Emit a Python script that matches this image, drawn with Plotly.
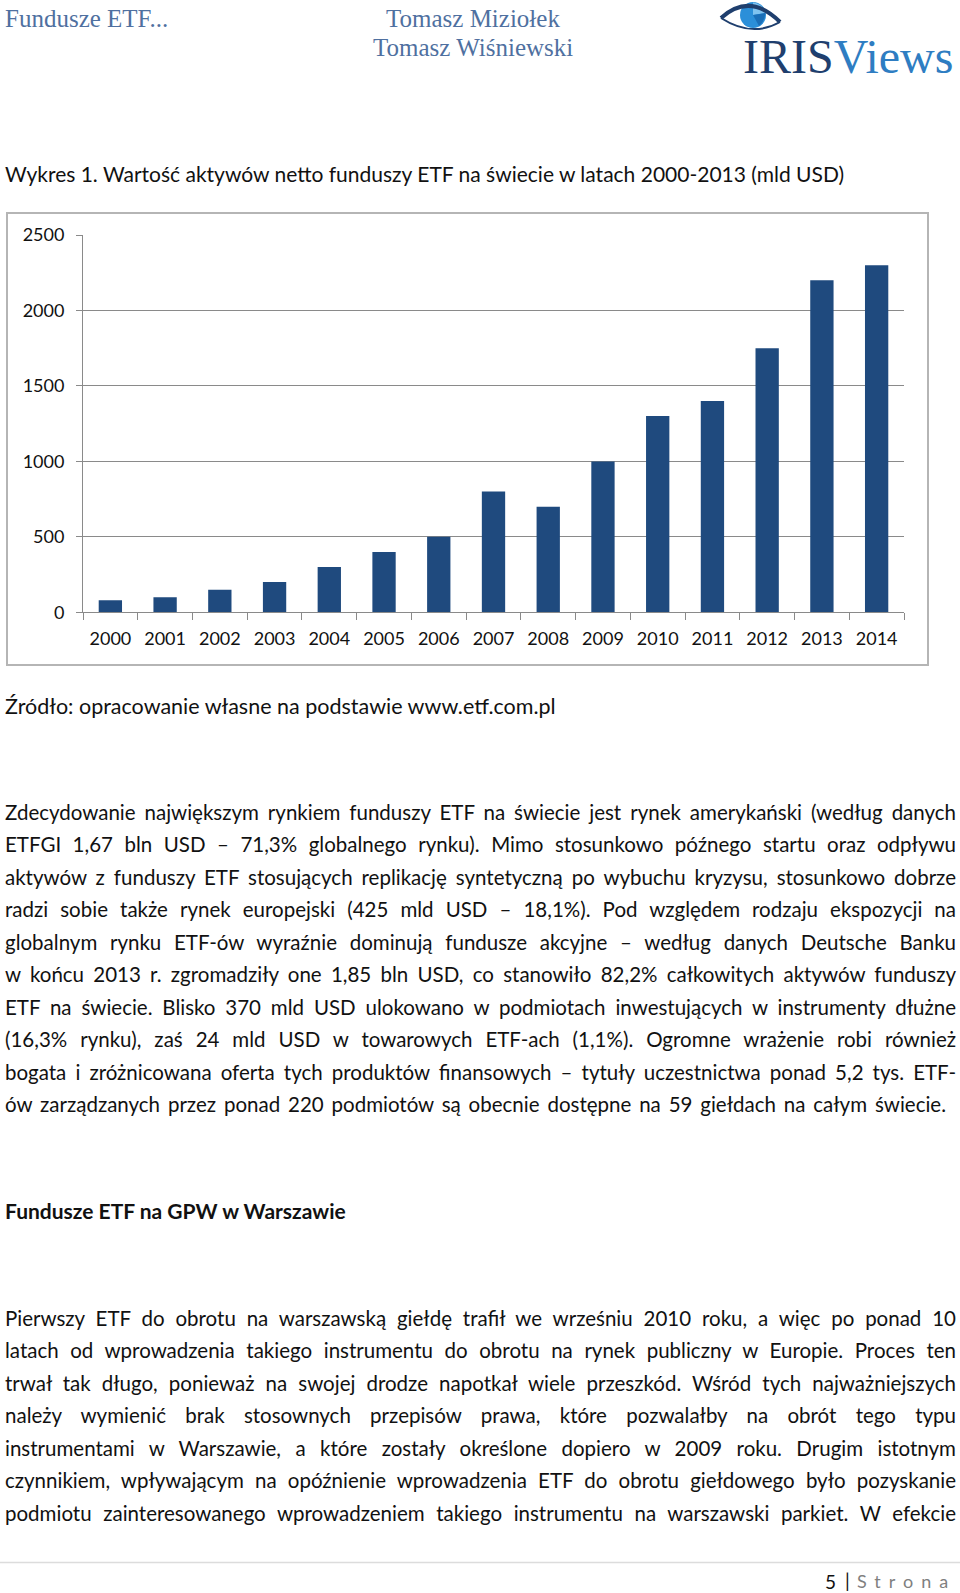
import plotly.graph_objects as go

W, H = 960, 1593

# ---------------- data ----------------
years = ["2000", "2001", "2002", "2003", "2004", "2005", "2006", "2007",
         "2008", "2009", "2010", "2011", "2012", "2013", "2014"]
assets_bn_usd = [80, 100, 150, 200, 300, 400, 500, 800,
                 700, 1000, 1300, 1400, 1750, 2200, 2300]
y_tick_values = [0, 500, 1000, 1500, 2000, 2500]

header_left = "Fundusze ETF..."
authors = ["Tomasz Miziołek", "Tomasz Wiśniewski"]
logo_dark = "IRIS"
logo_light = "Views"
chart_title = "Wykres 1. Wartość aktywów netto funduszy ETF na świecie w latach 2000-2013 (mld USD)"
source_note = "Źródło: opracowanie własne na podstawie www.etf.com.pl"
paragraph_1 = [
    "Zdecydowanie największym rynkiem funduszy ETF na świecie jest rynek amerykański (według danych",
    "ETFGI 1,67 bln USD – 71,3% globalnego rynku). Mimo stosunkowo późnego startu oraz odpływu",
    "aktywów z funduszy ETF stosujących replikację syntetyczną po wybuchu kryzysu, stosunkowo dobrze",
    "radzi sobie także rynek europejski (425 mld USD – 18,1%). Pod względem rodzaju ekspozycji na",
    "globalnym rynku ETF-ów wyraźnie dominują fundusze akcyjne – według danych Deutsche Banku",
    "w końcu 2013 r. zgromadziły one 1,85 bln USD, co stanowiło 82,2% całkowitych aktywów funduszy",
    "ETF na świecie. Blisko 370 mld USD ulokowano w podmiotach inwestujących w instrumenty dłużne",
    "(16,3% rynku), zaś 24 mld USD w towarowych ETF-ach (1,1%). Ogromne wrażenie robi również",
    "bogata i zróżnicowana oferta tych produktów finansowych – tytuły uczestnictwa ponad 5,2 tys. ETF-",
    "ów zarządzanych przez ponad 220 podmiotów są obecnie dostępne na 59 giełdach na całym świecie.",
]
heading_2 = "Fundusze ETF na GPW w Warszawie"
paragraph_2 = [
    "Pierwszy ETF do obrotu na warszawską giełdę trafił we wrześniu 2010 roku, a więc po ponad 10",
    "latach od wprowadzenia takiego instrumentu do obrotu na rynek publiczny w Europie. Proces ten",
    "trwał tak długo, ponieważ na swojej drodze napotkał wiele przeszkód. Wśród tych najważniejszych",
    "należy wymienić brak stosownych przepisów prawa, które pozwalałby na obrót tego typu",
    "instrumentami w Warszawie, a które zostały określone dopiero w 2009 roku. Drugim istotnym",
    "czynnikiem, wpływającym na opóźnienie wprowadzenia ETF do obrotu giełdowego było pozyskanie",
    "podmiotu zainteresowanego wprowadzeniem takiego instrumentu na warszawski parkiet. W efekcie",
]
page_number = "5"
page_word = "Strona"

# ---------------- style ----------------
BODY_FONT = "Lato"
SERIF_FONT = "Liberation Serif"
BAR_COLOR = "#1F4A7E"
GRID_COLOR = "#8a8a8a"
HEADER_BLUE = "#4F70A0"


def px(x):
    return x / W


def py(y):
    return 1 - y / H


fig = go.Figure()
fig.add_trace(go.Bar(x=years, y=assets_bn_usd, marker=dict(color=BAR_COLOR, line=dict(width=0)),
                     hoverinfo="x+y", showlegend=False))

annotations = []
justify = {}


def add_text(text, x, y, size, color="#111111", font=BODY_FONT, xanchor="left", target=None):
    fnt = dict(family=font, size=size, color=color)
    annotations.append(dict(text=text, x=px(x), y=py(y), xref="paper", yref="paper",
                            xanchor=xanchor, yanchor="middle", align=xanchor,
                            showarrow=False, font=fnt, borderpad=0))
    if target is not None:
        justify[len(annotations) - 1] = target


# header
add_text(header_left, 4, 18, 25, color=HEADER_BLUE, font=SERIF_FONT)
add_text(authors[0], 473, 18, 25, color=HEADER_BLUE, font=SERIF_FONT, xanchor="center")
add_text(authors[1], 473, 48, 25, color=HEADER_BLUE, font=SERIF_FONT, xanchor="center")
add_text(f'<span style="color:#1F3F6E">{logo_dark}</span><span style="color:#2E7DC2">{logo_light}</span>',
         742, 56, 48, font=SERIF_FONT)

# chart title & source
add_text(chart_title, 4, 173, 21)
add_text(source_note, 4, 706, 21.5)

# paragraph 1
LINE = 32.5
y0 = 811.7
for i, line in enumerate(paragraph_1):
    tgt = 951 if i < len(paragraph_1) - 1 else 941
    add_text(line, 4, y0 + i * LINE, 20.5, target=tgt)

add_text(f"<b>{heading_2}</b>", 4, 1210, 21)

y1 = 1317.6
for i, line in enumerate(paragraph_2):
    add_text(line, 4, y1 + i * LINE, 20.5, target=951)

# footer
add_text(page_number, 824, 1581, 19)
add_text("|", 844, 1580, 19)
add_text(f'<span style="letter-spacing:8px">{page_word}</span>', 856, 1581, 18, color="#7f7f7f")

# ---------------- shapes ----------------
shapes = []
# chart frame
shapes.append(dict(type="rect", xref="paper", yref="paper", x0=px(7), x1=px(928), y0=py(665), y1=py(213),
                   line=dict(color="#b5b5b5", width=2), fillcolor="rgba(0,0,0,0)", layer="below"))
# footer rule
shapes.append(dict(type="line", xref="paper", yref="paper", x0=0, x1=1, y0=py(1562.5), y1=py(1562.5),
                   line=dict(color="#dcdcdc", width=1.5)))
# logo eye: iris
shapes.append(dict(type="circle", xref="paper", yref="paper", x0=px(740), x1=px(766), y0=py(28), y1=py(2),
                   fillcolor="#2B8FD9", line=dict(width=0)))
shapes.append(dict(type="path", xref="paper", yref="paper",
                   path=f"M {px(753)},{py(15)} L {px(753)},{py(2.5)} Q {px(763)},{py(4)} {px(765.5)},{py(13)} Z",
                   fillcolor="#7FC3F0", line=dict(width=0)))
shapes.append(dict(type="path", xref="paper", yref="paper",
                   path=f"M {px(753)},{py(15)} L {px(765.5)},{py(13)} Q {px(765)},{py(21)} {px(759)},{py(26)} Z",
                   fillcolor="#1B6FB8", line=dict(width=0)))
# eyelids
shapes.append(dict(type="path", xref="paper", yref="paper",
                   path=f"M {px(721)},{py(18)} Q {px(750)},{py(-8)} {px(780)},{py(22)}",
                   line=dict(color="#1F3F6E", width=4)))
shapes.append(dict(type="path", xref="paper", yref="paper",
                   path=f"M {px(721)},{py(18)} Q {px(752)},{py(38)} {px(780)},{py(22)}",
                   line=dict(color="#1F3F6E", width=2)))

fig.update_layout(
    width=W, height=H, autosize=False,
    margin=dict(l=0, r=0, t=0, b=0, pad=0, autoexpand=False),
    paper_bgcolor="white", plot_bgcolor="white",
    bargap=0.574,
    showlegend=False,
    annotations=annotations,
    shapes=shapes,
    xaxis=dict(type="category", domain=[px(83), px(904)], anchor="y", automargin=False,
               showline=True, linecolor=GRID_COLOR, linewidth=1,
               ticks="outside", tickson="boundaries", ticklen=7, tickcolor=GRID_COLOR, tickwidth=1,
               showgrid=False, tickfont=dict(family=BODY_FONT, size=18, color="#111111"),
               ticklabelstandoff=10, fixedrange=True),
    yaxis=dict(domain=[py(612.3), py(235)], range=[0, 2500], anchor="x", automargin=False,
               tickmode="array", tickvals=y_tick_values, ticktext=[str(v) for v in y_tick_values],
               showgrid=True, gridcolor=GRID_COLOR, gridwidth=1,
               showline=True, linecolor=GRID_COLOR, linewidth=1, zeroline=False,
               ticks="outside", ticklen=6, tickcolor=GRID_COLOR,
               tickfont=dict(family=BODY_FONT, size=18, color="#111111"),
               ticklabelstandoff=8, fixedrange=True),
)

targets_js = "{" + ",".join(f'"{k}":{v}' for k, v in justify.items()) + "}"
post_script = """
document.documentElement.style.margin='0';
document.body.style.margin='0';
document.body.style.padding='0';
(function(){
  var targets = %s;
  document.querySelectorAll('g.annotation').forEach(function(g){
    var i = g.getAttribute('data-index');
    if (!(i in targets)) return;
    var t = g.querySelector('text.annotation-text');
    if (!t) return;
    var w = t.getComputedTextLength();
    var n = (t.textContent.match(/ /g) || []).length;
    if (n > 0) { t.style.wordSpacing = ((targets[i] - w) / n) + 'px'; }
  });
})();
""" % targets_js

fig.write_html("out.html", include_plotlyjs=True, post_script=post_script,
               config={"displayModeBar": False, "responsive": False})
